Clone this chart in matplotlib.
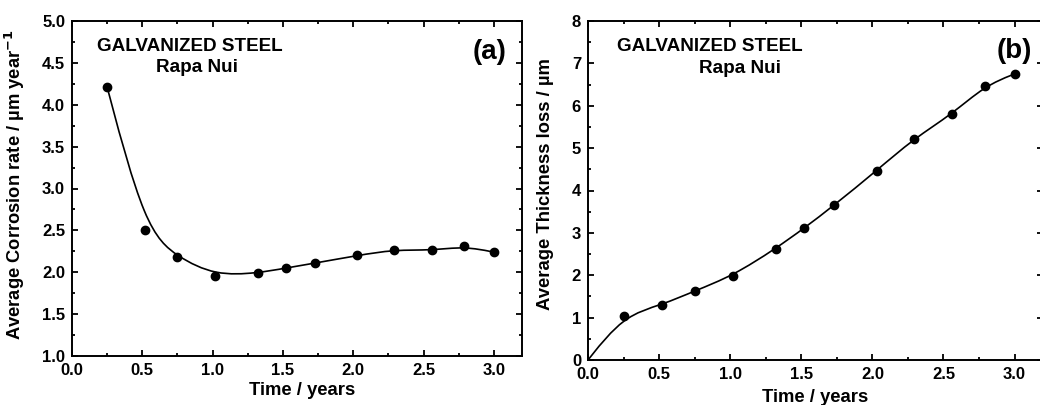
import numpy as np
import matplotlib
matplotlib.use("Agg")
import matplotlib.pyplot as plt
from matplotlib.path import Path
from matplotlib.patches import PathPatch
from matplotlib.ticker import MultipleLocator

# ---- data ----
time_years = [0.25, 0.52, 0.75, 1.02, 1.32, 1.52, 1.73, 2.03, 2.29, 2.56, 2.79, 3.0]
corrosion_rate = [4.21, 2.51, 2.18, 1.96, 1.99, 2.05, 2.11, 2.20, 2.27, 2.26, 2.31, 2.24]
thickness_time = [0.0] + time_years
thickness_loss = [0.0, 1.05, 1.30, 1.63, 1.99, 2.63, 3.11, 3.65, 4.47, 5.22, 5.80, 6.47, 6.75]

title_text = "GALVANIZED STEEL"
site_text = "Rapa Nui"

plt.rcParams['font.family'] = ['Liberation Sans', 'DejaVu Sans']
plt.rcParams['font.weight'] = 'bold'
plt.rcParams['mathtext.default'] = 'bf'


def bspline_path(xs, ys):
    """Uniform cubic B-spline with data as control points (ends clamped by tripling)."""
    P = np.column_stack([xs, ys]).astype(float)
    P = np.vstack([P[0], P[0], P, P[-1], P[-1]])
    verts, codes = [], []
    for i in range(len(P) - 3):
        p0, p1, p2, p3 = P[i], P[i + 1], P[i + 2], P[i + 3]
        b0 = (p0 + 4 * p1 + p2) / 6
        b1 = (2 * p1 + p2) / 3
        b2 = (p1 + 2 * p2) / 3
        b3 = (p1 + 4 * p2 + p3) / 6
        if i == 0:
            verts.append(b0); codes.append(Path.MOVETO)
        verts += [b1, b2, b3]
        codes += [Path.CURVE4] * 3
    return Path(verts, codes)


fig = plt.figure(figsize=(10.4, 4.05), dpi=100)
ax1 = fig.add_axes([72 / 1040, 49 / 405, (522 - 72) / 1040, (356 - 21) / 405])
ax2 = fig.add_axes([588 / 1040, 45 / 405, (1043 - 588) / 1040, (360 - 21) / 405])

LABEL_FS = 13.3
TEXT_FS = 13.6


def style(ax, ymaj, ymin):
    ax.set_xlim(0, 3.2)
    ax.xaxis.set_major_locator(MultipleLocator(0.5))
    ax.xaxis.set_minor_locator(MultipleLocator(0.25))
    ax.yaxis.set_major_locator(MultipleLocator(ymaj))
    ax.yaxis.set_minor_locator(MultipleLocator(ymin))
    ax.tick_params(which='both', direction='in', top=True, right=True, width=1.3,
                   labelsize=12)
    ax.tick_params(which='major', length=4, pad=5)
    ax.tick_params(which='minor', length=2.5)
    for s in ax.spines.values():
        s.set_linewidth(1.4)
    for lab in ax.get_xticklabels() + ax.get_yticklabels():
        lab.set_fontweight('bold')
    ax.set_xlabel("Time / years", fontsize=LABEL_FS, fontweight='bold')


# panel (a)
ax1.add_patch(PathPatch(bspline_path(time_years, corrosion_rate), fill=False,
                        edgecolor='black', linewidth=1.2))
ax1.plot(time_years, corrosion_rate, 'o', color='black', markersize=6)
ax1.set_ylim(1.0, 5.0)
style(ax1, 0.5, 0.25)
ax1.set_ylabel("Average Corrosion rate / µm year$^{-1}$", fontsize=13.2,
               fontweight='bold')
ax1.yaxis.set_label_coords(-0.100, 0.51)
ax1.xaxis.set_label_coords(0.512, -0.078)
ax1.text(0.835, 4.70, title_text, fontsize=TEXT_FS, fontweight='bold', ha='center', va='center')
ax1.text(0.89, 4.44, site_text, fontsize=TEXT_FS, fontweight='bold', ha='center', va='center')
ax1.text(3.09, 4.63, "(a)", fontsize=20, fontweight='bold', ha='right', va='center')

# panel (b)
ax2.add_patch(PathPatch(bspline_path(thickness_time, thickness_loss), fill=False,
                        edgecolor='black', linewidth=1.2))
ax2.plot(thickness_time[1:], thickness_loss[1:], 'o', color='black', markersize=6)
ax2.set_ylim(0, 8)
style(ax2, 1, 0.5)
ax2.set_ylabel("Average Thickness loss / µm", fontsize=LABEL_FS, fontweight='bold')
ax2.yaxis.set_label_coords(-0.074, 0.52)
ax2.xaxis.set_label_coords(0.50, -0.085)
ax2.text(0.857, 7.41, title_text, fontsize=TEXT_FS, fontweight='bold', ha='center', va='center')
ax2.text(1.07, 6.88, site_text, fontsize=TEXT_FS, fontweight='bold', ha='center', va='center')
ax2.text(3.12, 7.29, "(b)", fontsize=20, fontweight='bold', ha='right', va='center')

fig.savefig("out.png", dpi=100)
